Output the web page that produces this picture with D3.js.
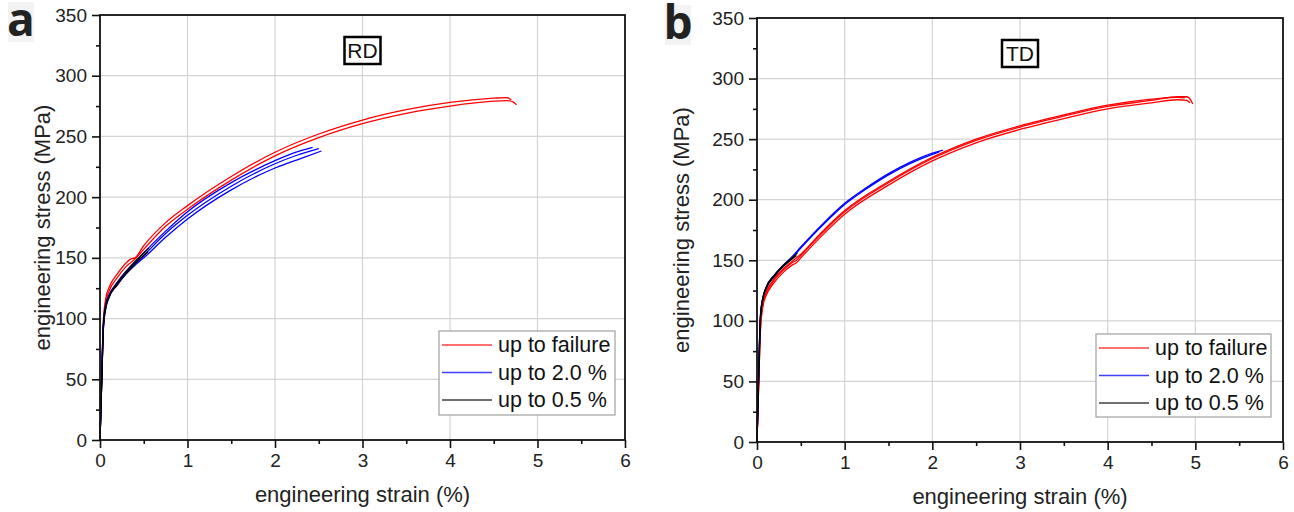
<!DOCTYPE html>
<html>
<head>
<meta charset="utf-8">
<script src="https://cdn.jsdelivr.net/npm/d3@7"></script>
<style>
  html, body { margin: 0; padding: 0; background: #fff; }
  svg { display: block; font-family: "Liberation Sans", Arial, sans-serif; }
  .tick text { font-size: 19px; fill: #222; }
  .axis-title { font-size: 22px; fill: #222; }
  .legend-text { font-size: 21.5px; fill: #111; }
</style>
</head>
<body>
<div id="chart"></div>
<script>
// Engineering stress-strain curves, RD and TD
const strainTicks = [0, 1, 2, 3, 4, 5, 6];
const stressTicks = [0, 50, 100, 150, 200, 250, 300, 350];
const legendLabels = ["up to failure", "up to 2.0 %", "up to 0.5 %"];
const seriesColors = ["#ff0000", "#0000ff", "#000000"];

// RD curves [strain %, stress MPa]
const rdFailure = [
    [[0,0],[0.02,55],[0.04,100],[0.07,118],[0.1,125],[0.2,137],[0.3,146],[0.35,149],[0.4,150],[0.5,160],[0.75,179],[1,193],[1.5,217],[2,237],[2.5,252],[3,263.5],[3.5,272],[4,278],[4.5,281.5],[4.65,282],[4.7,280]],
    [[0,0],[0.02,50],[0.04,95],[0.07,115],[0.1,122],[0.2,134],[0.3,143],[0.4,149],[0.5,157],[0.75,176],[1,190],[1.5,214],[2,234],[2.5,249],[3,260.5],[3.5,269],[4,275],[4.5,279],[4.65,279.5],[4.72,278.5],[4.76,276]]
];
const rdTwoPct = [
    [[0,0],[0.02,55],[0.04,98],[0.07,113],[0.1,119],[0.2,130],[0.3,139],[0.4,146],[0.5,154],[0.75,172],[1,188],[1.5,212],[2,230],[2.2,236],[2.43,241]],
    [[0,0],[0.02,52],[0.04,96],[0.07,112],[0.1,118],[0.2,129],[0.3,138],[0.4,145],[0.5,152],[0.75,170],[1,185],[1.5,209],[2,227.5],[2.25,234.5],[2.5,240]],
    [[0,0],[0.02,50],[0.04,94],[0.07,110],[0.1,117],[0.2,128],[0.3,137],[0.4,144],[0.5,150],[0.75,167],[1,182],[1.5,206],[2,224],[2.3,232],[2.53,238]]
];
const rdHalfPct = [
    [[0,0],[0.02,50],[0.04,95],[0.07,112],[0.1,118],[0.2,130],[0.3,139],[0.4,147],[0.5,154],[0.56,158]],
    [[0,0],[0.02,48],[0.04,93],[0.07,110],[0.1,117],[0.2,128],[0.3,137],[0.4,145],[0.5,152],[0.55,155]]
];

// TD curves
const tdFailure = [
    [[0,0],[0.02,50],[0.04,95],[0.07,115],[0.1,122],[0.2,134],[0.3,142],[0.4,148],[0.45,150],[0.5,154],[0.75,173],[1,190],[1.5,214],[2,234],[2.5,249],[3,260],[3.5,269],[4,277],[4.5,282],[4.8,285],[4.9,285],[4.95,282],[4.97,279]],
    [[0,0],[0.02,48],[0.04,93],[0.07,113],[0.1,120],[0.2,132],[0.3,140],[0.4,146],[0.45,148],[0.5,152],[0.75,171],[1,188],[1.5,212],[2,232],[2.5,247],[3,258],[3.5,267],[4,275],[4.5,280],[4.8,282.5],[4.9,282],[4.94,280]],
    [[0,0],[0.02,52],[0.04,97],[0.07,116],[0.1,123],[0.2,135],[0.3,143],[0.4,149],[0.5,155],[0.75,174],[1,191],[1.5,215],[2,235],[2.5,250],[3,261],[3.5,270],[4,278],[4.5,283],[4.8,284.5],[4.88,284]]
];
const tdTwoPct = [
    [[0,0],[0.02,60],[0.04,105],[0.07,120],[0.1,127],[0.2,138],[0.3,146],[0.4,153],[0.5,161],[0.75,180],[1,197],[1.25,210],[1.5,221.5],[1.75,231],[2,238.5],[2.12,241]],
    [[0,0],[0.02,58],[0.04,103],[0.07,119],[0.1,126],[0.2,137],[0.3,145],[0.4,152],[0.5,160],[0.75,179],[1,196],[1.25,209],[1.5,220.5],[1.75,230],[2,237.5],[2.08,239.5]]
];
const tdHalfPct = [
    [[0,0],[0.02,60],[0.04,105],[0.07,120],[0.1,127],[0.2,138],[0.3,146],[0.4,152],[0.46,156]],
    [[0,0],[0.02,58],[0.04,103],[0.07,119],[0.1,126],[0.2,137],[0.3,145],[0.4,151],[0.45,154]]
];

const W = 1294, H = 512;

const svg = d3.select("#chart")
    .append("svg")
    .attr("width", W)
    .attr("height", H);

const panels = [
    { label: "a", dir: "RD", left: 100, top: 15, width: 525, height: 425, titleOffset: 50,
      series: [rdFailure, rdTwoPct, rdHalfPct],
      legend: { x: 439, y: 331, w: 176, h: 84 } },
    { label: "b", dir: "TD", left: 757, top: 18, width: 526, height: 424, titleOffset: 68,
      series: [tdFailure, tdTwoPct, tdHalfPct],
      legend: { x: 1096, y: 334, w: 175, h: 83 } }
];

panels.forEach(drawPanel);

function drawPanel(p) {
    const x = d3.scaleLinear().domain([0, 6]).range([0, p.width]);
    const y = d3.scaleLinear().domain([0, 350]).range([p.height, 0]);

    // panel letter with pale backdrop
    svg.append("rect")
        .attr("x", p.left - 92).attr("y", p.top - 13)
        .attr("width", 26).attr("height", 40)
        .attr("fill", "#f3f3f3");
    svg.append("text")
        .attr("x", p.left - 79).attr("y", p.top + 21)
        .attr("text-anchor", "middle")
        .style("font-family", "'Open Sans', 'Liberation Sans', sans-serif")
        .style("font-weight", "bold")
        .style("font-size", "46px")
        .attr("fill", "#222")
        .text(p.label);

    const g = svg.append("g")
        .attr("transform", `translate(${p.left},${p.top})`);

    // grid
    g.append("g").selectAll("line")
        .data(strainTicks.slice(1, -1))
        .enter().append("line")
        .attr("x1", d => x(d)).attr("x2", d => x(d))
        .attr("y1", 0).attr("y2", p.height)
        .attr("stroke", "#d4d4d4").attr("stroke-width", 1.2);
    g.append("g").selectAll("line")
        .data(stressTicks.slice(1, -1))
        .enter().append("line")
        .attr("x1", 0).attr("x2", p.width)
        .attr("y1", d => y(d)).attr("y2", d => y(d))
        .attr("stroke", "#d4d4d4").attr("stroke-width", 1.2);

    // curves
    const line = d3.line()
        .x(d => x(d[0]))
        .y(d => y(d[1]))
        .curve(d3.curveMonotoneX);

    p.series.forEach((curves, i) => {
        g.append("g").selectAll("path")
            .data(curves)
            .enter().append("path")
            .attr("d", line)
            .attr("fill", "none")
            .attr("stroke", seriesColors[i])
            .attr("stroke-width", 1.3);
    });

    // axes
    g.append("g")
        .attr("transform", `translate(0,${p.height})`)
        .call(d3.axisBottom(x).tickValues(strainTicks).tickFormat(d3.format("d"))
            .tickSize(8).tickPadding(6).tickSizeOuter(0));
    g.append("g")
        .attr("transform", `translate(0,${p.height})`)
        .call(d3.axisBottom(x).tickValues(d3.range(0.5, 6, 1)).tickSize(4).tickFormat("").tickSizeOuter(0))
        .call(a => a.select(".domain").remove());
    g.append("g")
        .call(d3.axisLeft(y).tickValues(stressTicks).tickFormat(d3.format("d"))
            .tickSize(8).tickPadding(5).tickSizeOuter(0));
    g.append("g")
        .call(d3.axisLeft(y).tickValues(d3.range(25, 350, 50)).tickSize(4).tickFormat("").tickSizeOuter(0))
        .call(a => a.select(".domain").remove());

    g.selectAll(".tick line").attr("stroke", "#111").attr("stroke-width", 1.6);
    g.selectAll(".domain").attr("stroke", "none");

    // frame
    g.append("rect")
        .attr("width", p.width).attr("height", p.height)
        .attr("fill", "none")
        .attr("stroke", "#111").attr("stroke-width", 1.8);

    // axis titles
    g.append("text")
        .attr("class", "axis-title")
        .attr("x", p.width / 2).attr("y", p.height + 62)
        .attr("text-anchor", "middle")
        .text("engineering strain (%)");
    g.append("text")
        .attr("class", "axis-title")
        .attr("transform", `translate(${-p.titleOffset},${p.height / 2}) rotate(-90)`)
        .attr("text-anchor", "middle")
        .text("engineering stress (MPa)");

    // direction box
    const bx = x(3);
    g.append("rect")
        .attr("x", bx - 18).attr("y", 22)
        .attr("width", 36).attr("height", 27)
        .attr("fill", "#fff")
        .attr("stroke", "#000").attr("stroke-width", 2.5);
    g.append("text")
        .attr("x", bx).attr("y", 43)
        .attr("text-anchor", "middle")
        .style("font-size", "21px")
        .attr("fill", "#111")
        .text(p.dir);

    // legend
    const L = p.legend;
    const lg = svg.append("g").attr("transform", `translate(${L.x},${L.y})`);
    lg.append("rect")
        .attr("width", L.w).attr("height", L.h)
        .attr("fill", "#fff")
        .attr("stroke", "#a0a0a0").attr("stroke-width", 1.2);
    legendLabels.forEach((lab, i) => {
        const ry = 14 + i * 27.5;
        lg.append("line")
            .attr("x1", 3).attr("x2", 53)
            .attr("y1", ry).attr("y2", ry)
            .attr("stroke", seriesColors[i])
            .attr("stroke-opacity", 0.75)
            .attr("stroke-width", 1.3);
        lg.append("text")
            .attr("class", "legend-text")
            .attr("x", 59).attr("y", ry + 7)
            .text(lab);
    });
}
</script>
</body>
</html>
